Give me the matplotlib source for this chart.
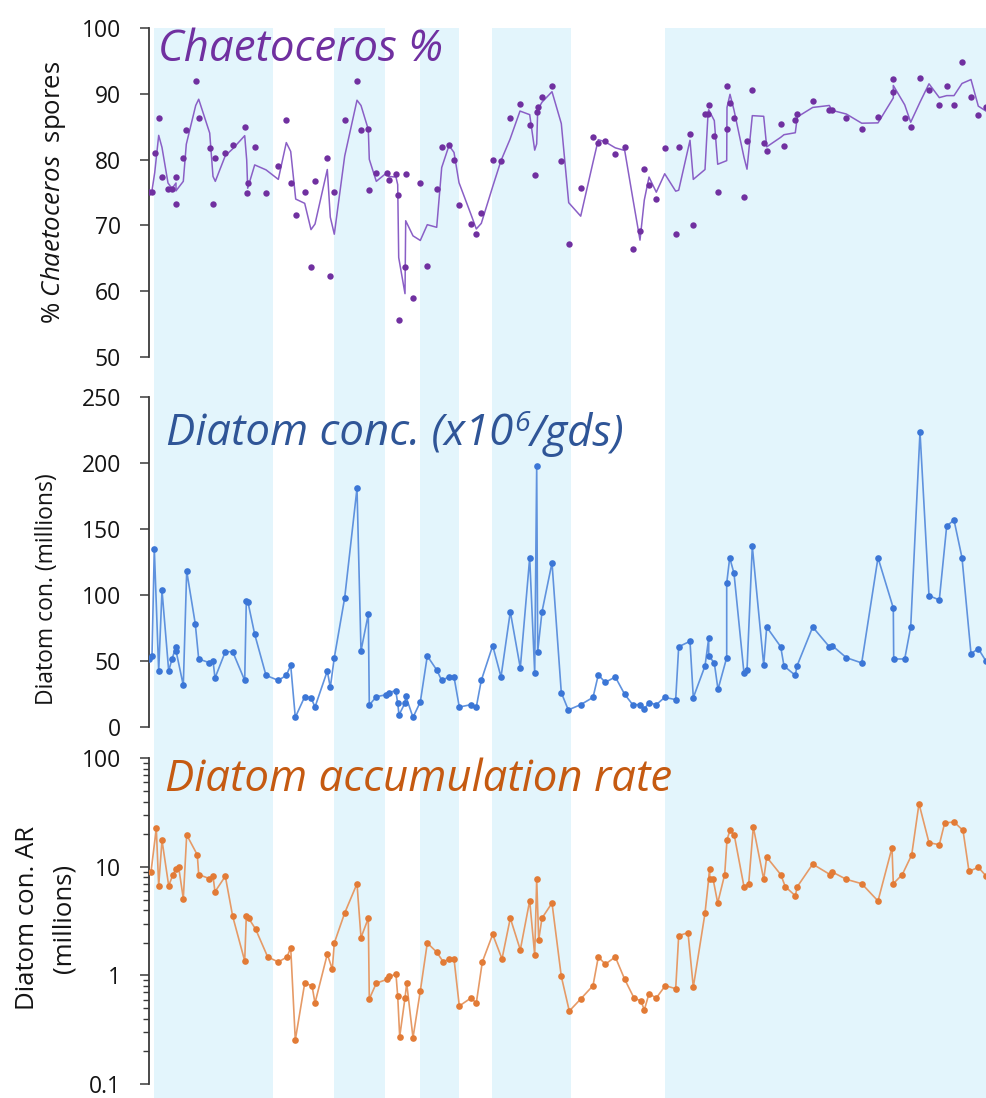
import matplotlib
matplotlib.use("Agg")
import matplotlib.pyplot as plt
from matplotlib.ticker import FixedLocator, NullFormatter, LogLocator, FuncFormatter
import pandas as pd

plt.rcParams['font.family'] = ['Open Sans', 'DejaVu Sans']
plt.rcParams['mathtext.fontset'] = 'custom'
plt.rcParams['mathtext.rm'] = 'Open Sans'
plt.rcParams['mathtext.it'] = 'Open Sans:italic'

# ---------------------------------------------------------------- data
# Sample positions along the core (arbitrary distance units, 0 at the top)
pos_pct = [0.3, 2.7, 5.7, 9.7, 13, 19, 23, 27, 27, 34.3, 37.3, 46.7, 49.7, 60.7, 64,
           66.3, 76.3, 83.7, 95.7, 97.7, 98.7, 105.7, 117, 129.3, 137.3, 141.7, 146.7,
           155.7, 162, 166, 178.3, 181.3, 185.3, 195.7, 208, 212, 219.3, 220.3, 227.3,
           237.7, 239.7, 247, 248.7, 249.7, 256, 256.7, 264, 271.3, 278.3, 287.7, 292.7,
           300, 305, 310, 322, 327.3, 332.3, 343.7, 352, 361, 371, 380.7, 385.7, 387.7,
           388.7, 393, 403, 412.3, 419.7, 431.7, 444, 449.3, 456.3, 466.3, 475.7, 483.7,
           491, 495.3, 500, 507.3, 515.7, 526.7, 529.7, 541, 544.3, 556, 559, 559.7,
           565.3, 568.7, 577.7, 578, 581, 585, 595, 598, 603.3, 614.7, 617.7, 631.7, 635,
           646.3, 648.3, 663.7, 680.3, 683.3, 697.3, 712.7, 729, 744.3, 744.3, 755.7,
           761.7, 771, 780, 790.3, 797.7, 805, 813, 822, 829.3, 837]
chaetoceros_pct = [75.0, 75.0, 81.0, 86.4, 77.3, 75.6, 75.6, 77.3, 73.2, 80.2, 84.5, 92.0,
                   86.4, 81.7, 73.2, 80.2, 81.0, 82.3, 85.0, 74.9, 76.4, 82.0, 74.9, 79.1,
                   86.1, 76.4, 71.6, 75.1, 63.6, 76.8, 80.2, 62.3, 75.0, 86.1, 92.0, 84.5,
                   84.7, 75.4, 78.0, 78.0, 76.9, 77.8, 74.6, 55.6, 63.6, 77.8, 59.0, 76.4,
                   63.8, 75.6, 82.0, 82.3, 79.9, 73.1, 70.2, 68.7, 71.9, 79.9, 79.8, 86.4,
                   88.4, 85.3, 77.6, 87.2, 88.0, 89.5, 91.2, 79.8, 67.1, 75.7, 83.5, 82.6,
                   82.8, 80.8, 82.0, 66.4, 69.1, 78.6, 76.1, 74.0, 81.7, 68.7, 82.0, 83.9,
                   70.1, 86.9, 86.9, 88.3, 83.6, 75.0, 84.7, 91.2, 88.7, 86.4, 74.3, 82.8,
                   90.6, 82.6, 81.3, 85.5, 82.1, 86.1, 86.9, 89.0, 87.5, 87.5, 86.4, 84.7,
                   86.5, 92.3, 90.3, 86.4, 85.0, 92.5, 90.6, 88.3, 91.2, 88.3, 94.9, 89.5,
                   86.8, 88.0]

pos_conc = [0.3, 3, 5.3, 9.7, 13, 19.7, 23, 27, 27, 34.3, 37.7, 46.3, 49.7, 60.3, 64, 66,
            76.3, 83.7, 95.7, 97.3, 99, 105.7, 117, 129.3, 137.3, 141.7, 146.3, 155.7,
            162, 166, 178.3, 181.3, 185.3, 195.7, 208, 212, 219.3, 220.3, 227.3, 237,
            239.7, 246.7, 248.7, 250, 256, 256.7, 264, 271.3, 278.3, 287.7, 292.7, 300,
            305, 310.3, 322, 327.3, 332.3, 343.7, 352, 361.3, 371.3, 380.7, 385.7, 387.7,
            388.7, 393, 403, 412.3, 419.3, 431.7, 444, 449.3, 456.3, 466.3, 475.7, 483.7,
            491, 495.3, 500, 507.3, 515.7, 526.7, 529.7, 541, 544.3, 556, 559.7, 559.7,
            565.3, 569, 577.7, 577.7, 580.7, 585, 595, 598, 603.3, 614.7, 617.7, 631.7,
            635, 646.3, 648, 663.7, 680.3, 683.3, 697.3, 712.7, 729, 744.3, 744.7, 755.7,
            761.7, 771, 780, 790.3, 797.7, 805, 813, 822, 829.3, 836.7]
diatom_conc = [51.3, 53.5, 134.9, 42.2, 103.3, 42.2, 51.3, 60.6, 57.6, 31.3, 117.9, 77.8,
               51.3, 48.5, 50.0, 36.9, 56.8, 56.8, 35.1, 95.0, 94.2, 70.0, 38.9, 35.1,
               38.9, 46.5, 7.1, 22.7, 22.0, 14.9, 42.2, 29.8, 52.3, 97.7, 180.6, 57.4,
               85.4, 16.4, 22.7, 24.2, 25.8, 27.3, 18.0, 8.9, 18.0, 23.3, 7.1, 18.7, 53.6,
               43.0, 35.1, 37.7, 37.7, 14.9, 16.7, 14.9, 35.1, 61.4, 37.7, 87.1, 44.5,
               128.0, 40.7, 197.5, 56.8, 87.1, 124.2, 25.8, 12.7, 16.7, 22.2, 39.2, 33.6,
               37.7, 24.5, 16.7, 16.7, 13.4, 18.2, 16.7, 22.2, 20.5, 60.6, 64.7, 22.0,
               46.0, 67.0, 53.8, 48.3, 28.3, 52.3, 108.6, 128.0, 116.2, 40.4, 42.7, 136.7,
               46.7, 75.5, 60.6, 46.0, 38.9, 46.0, 75.5, 60.6, 61.4, 52.3, 48.3, 128.0,
               89.9, 51.3, 51.3, 75.5, 223.3, 99.3, 96.0, 152.0, 156.6, 128.0, 55.3, 59.1,
               50.0]

pos_ar = [2, 7.3, 9.7, 13, 19.7, 24, 27, 29.7, 34.3, 37.7, 48.3, 49.7, 60.3, 64, 66,
          76.3, 83.7, 95.7, 97.3, 99.7, 106.7, 118.7, 129.3, 138, 141.7, 146.3, 155.7,
          163, 166, 178.3, 183.3, 185.3, 195.7, 208, 212, 219.3, 220.3, 227.3, 238,
          239.7, 247, 248.7, 250.7, 256, 257.7, 264, 271.3, 278.3, 287.7, 294.3, 300,
          305, 310.3, 322, 327.3, 333.3, 343.7, 353, 361.3, 371.3, 380.7, 385.7, 387.7,
          389.7, 393, 403, 412.3, 420.3, 431.7, 444, 449.3, 456.3, 466.3, 475.7, 485,
          492, 495.3, 500, 507.3, 516.3, 526.7, 529.7, 539, 544.3, 556, 560.7, 560.7,
          564, 568.7, 575.7, 578, 581, 585.3, 595, 599.7, 604.3, 614.7, 617.7, 631.7,
          636.3, 646.3, 648.3, 663.7, 681, 683.3, 697.3, 712.7, 729, 743, 744.3, 753.3,
          762.7, 770, 780, 790.3, 795.7, 805, 814, 820, 829.3, 837.3]
diatom_ar = [8.97, 22.6, 6.7, 17.6, 6.7, 8.5, 9.5, 9.9, 5.1, 19.7, 12.9, 8.5, 7.8, 8.2,
             5.9, 8.2, 3.5, 1.36, 3.5, 3.36, 2.66, 1.48, 1.33, 1.48, 1.80, 0.254, 0.847,
             0.805, 0.557, 1.57, 1.14, 1.99, 3.76, 7.0, 2.23, 3.36, 0.607, 0.847, 0.921,
             0.98, 1.02, 0.647, 0.273, 0.62, 0.847, 0.267, 0.719, 1.99, 1.64, 1.33, 1.42,
             1.42, 0.523, 0.62, 0.557, 1.33, 2.39, 1.42, 3.37, 1.72, 4.88, 1.54, 7.68,
             2.13, 3.37, 4.65, 0.98, 0.47, 0.607, 0.805, 1.48, 1.27, 1.48, 0.921, 0.62,
             0.582, 0.481, 0.679, 0.62, 0.805, 0.755, 2.32, 2.48, 0.78, 3.74, 9.5, 7.68,
             7.8, 4.65, 8.5, 17.8, 21.7, 19.5, 6.57, 7.0, 23.3, 7.68, 12.3, 8.5, 6.57,
             5.42, 6.57, 10.6, 8.5, 8.97, 7.68, 7.0, 4.85, 15.0, 7.0, 8.5, 12.9, 38.2,
             16.7, 16.0, 25.4, 25.9, 21.7, 9.1, 9.9, 8.2]

# Warm intervals shaded across all three panels (start, end)
warm_intervals = [(5, 123.7), (185, 236), (271, 310), (343, 422), (516, 838)]

pct_ticks = [50, 60, 70, 80, 90, 100]
conc_ticks = [0, 50, 100, 150, 200, 250]
ar_ticks = [0.1, 1, 10, 100]

# ---------------------------------------------------------------- layout
W, H = 987, 1098
fig = plt.figure(figsize=(W / 100, H / 100), dpi=100)
X0, X1 = 0.0, 838.0
left = 149 / W
width = 838 / W
INK = '#141414'
AXC = '#3a3a3a'


def px_box(top, bottom):
    return [left, 1 - bottom / H, width, (bottom - top) / H]


bg = fig.add_axes(px_box(28, H))
bg.set_xlim(X0, X1)
bg.set_ylim(0, 1)
bg.axis('off')
for a, b in warm_intervals:
    bg.axvspan(a, b, color='#E3F5FC', lw=0, zorder=0)

ax1 = fig.add_axes(px_box(28.3, 356.7))
ax2 = fig.add_axes(px_box(396.7, 726.7))
ax3 = fig.add_axes(px_box(758.3, 1084))

for ax in (ax1, ax2, ax3):
    ax.set_facecolor('none')
    ax.set_xlim(X0, X1)
    for s in ('top', 'right', 'bottom'):
        ax.spines[s].set_visible(False)
    ax.spines['left'].set_color(AXC)
    ax.spines['left'].set_linewidth(1.3)
    ax.tick_params(axis='x', bottom=False, labelbottom=False)
    ax.tick_params(axis='y', which='major', direction='out', length=6.8, width=1.1,
                   color=AXC, pad=13.5, labelsize=16.5, labelcolor=INK)
    ax.tick_params(axis='y', which='minor', direction='out', length=4.3, width=1.0,
                   color=AXC)

# Chaetoceros spores: samples plus a two-point moving average
ax1.set_ylim(50, 100)
ax1.yaxis.set_major_locator(FixedLocator(pct_ticks))
pct = pd.Series(chaetoceros_pct, index=pos_pct)
ma = pct.rolling(2).mean()
ax1.plot(ma.index, ma.values, color='#8A5FC6', lw=1.1, zorder=2)
ax1.plot(pos_pct, chaetoceros_pct, 'o', color='#7030A0', ms=4.6, mew=0, zorder=3)

# Diatom concentration
ax2.set_ylim(0, 250)
ax2.yaxis.set_major_locator(FixedLocator(conc_ticks))
ax2.plot(pos_conc, diatom_conc, '-', color='#5F92DE', lw=1.2, zorder=2)
ax2.plot(pos_conc, diatom_conc, 'o', color='#3B76D6', ms=4.8, mew=0, zorder=3)

# Diatom accumulation rate (log scale)
ax3.set_yscale('log')
ax3.set_ylim(0.1, 100)
ax3.yaxis.set_major_locator(FixedLocator(ar_ticks))
ax3.yaxis.set_major_formatter(FuncFormatter(lambda v, _: f'{v:g}'))
ax3.yaxis.set_minor_locator(LogLocator(base=10, subs=range(2, 10)))
ax3.yaxis.set_minor_formatter(NullFormatter())
ax3.plot(pos_ar, diatom_ar, '-', color='#E69A66', lw=1.2, zorder=2)
ax3.plot(pos_ar, diatom_ar, 'o', color='#E27B36', ms=4.8, mew=0, zorder=3)


def ftext(x, y, s, **kw):
    return fig.text(x / W, 1 - y / H, s, **kw)


# Panel headings
ftext(158, 61, 'Chaetoceros %', fontsize=31.5, fontstyle='italic', color='#7030A0',
      va='baseline', ha='left')
ftext(165, 791, 'Diatom accumulation rate', fontsize=31.5, fontstyle='italic',
      color='#C55A11', va='baseline', ha='left')

# Heading with a superscript exponent, assembled from three italic runs
renderer = fig.canvas.get_renderer()
conc_col = '#2F5597'
head_fs = 31.5
x_cur, base_y = 166, 446
parts = [('Diatom conc. (x10', head_fs, 0, 1), ('6', head_fs * 0.65, -15, 0),
         ('/gds)', head_fs, 0, 0)]
for s, fs, dy, gap in parts:
    t = ftext(x_cur, base_y + dy, s, fontsize=fs, fontstyle='italic', color=conc_col,
              va='baseline', ha='left')
    bb = t.get_window_extent(renderer=renderer)
    x_cur += bb.width + gap

# Axis titles
ftext(54, 192, r'% $\mathit{Chaetoceros}$  spores', fontsize=18.5, rotation=90,
      ha='center', va='center', color=INK)
ftext(47, 589, 'Diatom con. (millions)', fontsize=16.5, rotation=90,
      ha='center', va='center', color=INK)
ftext(28, 918, 'Diatom con. AR', fontsize=18.5, rotation=90,
      ha='center', va='center', color=INK)
ftext(64, 918, '(millions)', fontsize=18.5, rotation=90,
      ha='center', va='center', color=INK)

fig.savefig('out.png', dpi=100)
